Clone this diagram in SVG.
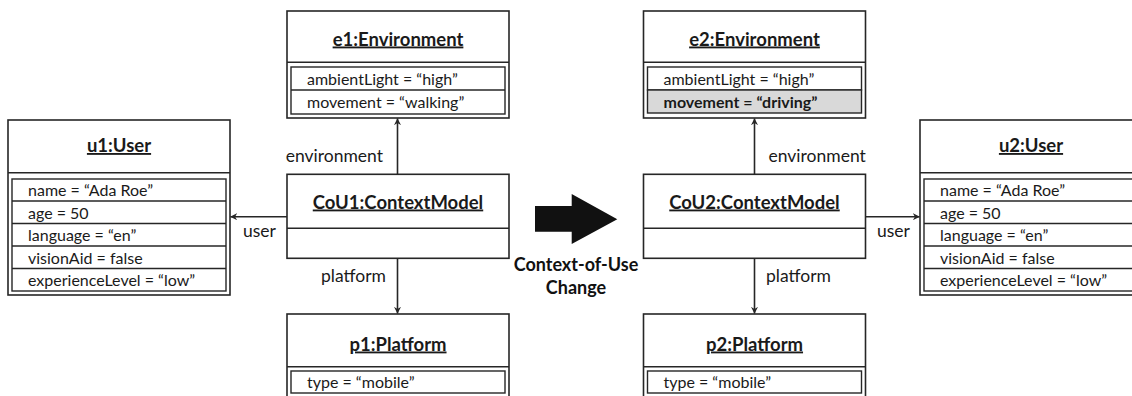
<svg xmlns="http://www.w3.org/2000/svg" width="1132" height="396" viewBox="0 0 1132 396">
  <style>
    .box { fill: #ffffff; stroke: #262626; stroke-width: 1.6; }
    .row { fill: none; stroke: #262626; stroke-width: 1.4; }
    .hl { fill: #d9d9d9; stroke: #262626; stroke-width: 1.4; }
    .title { font-family: "Lato", "Liberation Sans", sans-serif; font-size: 18.5px; font-weight: bold; fill: #1a1a1a; text-anchor: middle; text-decoration: underline; }
    .attr { font-family: "Lato", "Liberation Sans", sans-serif; font-size: 16px; fill: #1a1a1a; }
    .attrb { font-family: "Lato", "Liberation Sans", sans-serif; font-size: 16px; font-weight: bold; fill: #1a1a1a; }
    .lbl { font-family: "Lato", "Liberation Sans", sans-serif; font-size: 17.5px; fill: #1a1a1a; }
    .change { font-family: "Lato", "Liberation Sans", sans-serif; font-size: 18px; font-weight: bold; fill: #111111; text-anchor: middle; }
    .conn { stroke: #262626; stroke-width: 1.6; fill: none; marker-end: url(#head); }
  </style>
  <defs>
    <marker id="head" viewBox="0 0 10 10" refX="9.5" refY="5" markerWidth="7" markerHeight="7" markerUnits="userSpaceOnUse" orient="auto">
      <path d="M0,0 L10,5 L0,10 L3,5 Z" fill="#262626"/>
    </marker>
  </defs>

  <!-- left model -->
  <g id="u1">
    <rect class="box" x="8" y="120" width="222" height="175"/>
    <line class="row" x1="8" y1="172.7" x2="230" y2="172.7"/>
    <text class="title" x="119" y="152">u1:User</text>
    <rect class="row" x="12" y="179" width="214" height="112"/>
    <line class="row" x1="12" y1="201" x2="226" y2="201"/>
    <line class="row" x1="12" y1="223.5" x2="226" y2="223.5"/>
    <line class="row" x1="12" y1="246" x2="226" y2="246"/>
    <line class="row" x1="12" y1="268.5" x2="226" y2="268.5"/>
    <text class="attr" x="28" y="196">name = “Ada Roe”</text>
    <text class="attr" x="28" y="218.5">age = 50</text>
    <text class="attr" x="28" y="241">language = “en”</text>
    <text class="attr" x="28" y="263.5">visionAid = false</text>
    <text class="attr" x="28" y="286">experienceLevel = “low”</text>
  </g>

  <g id="e1">
    <rect class="box" x="287" y="11" width="222" height="107"/>
    <line class="row" x1="287" y1="62.3" x2="509" y2="62.3"/>
    <text class="title" x="398" y="45.5">e1:Environment</text>
    <rect class="row" x="291" y="67" width="214" height="47"/>
    <line class="row" x1="291" y1="90" x2="505" y2="90"/>
    <text class="attr" x="307" y="85">ambientLight = “high”</text>
    <text class="attr" x="307" y="107.5">movement = “walking”</text>
  </g>

  <g id="cou1">
    <rect class="box" x="287" y="174.3" width="222" height="84"/>
    <line class="row" x1="287" y1="228.3" x2="509" y2="228.3"/>
    <text class="title" x="398" y="208.5">CoU1:ContextModel</text>
  </g>

  <g id="p1">
    <rect class="box" x="287" y="314" width="222" height="90"/>
    <line class="row" x1="287" y1="366.7" x2="509" y2="366.7"/>
    <text class="title" x="398" y="350.5">p1:Platform</text>
    <rect class="row" x="291" y="371" width="214" height="22"/>
    <text class="attr" x="307" y="387.5">type = “mobile”</text>
  </g>

  <!-- transition arrow -->
  <g id="change">
    <polygon points="535,206 571.7,206 571.7,194 617.3,219.3 571.7,244 571.7,231.7 535,231.7" fill="#111111"/>
    <text class="change" x="576" y="270.5">Context-of-Use</text>
    <text class="change" x="576" y="293.5">Change</text>
  </g>

  <!-- right model -->
  <g id="e2">
    <rect class="box" x="643.5" y="11" width="222" height="107"/>
    <line class="row" x1="643.5" y1="62.3" x2="865.5" y2="62.3"/>
    <text class="title" x="754.5" y="45.5">e2:Environment</text>
    <rect class="row" x="647.5" y="67" width="214" height="23"/>
    <rect class="hl" x="647.5" y="90" width="214" height="23"/>
    <text class="attr" x="663.5" y="85">ambientLight = “high”</text>
    <text class="attrb" x="663.5" y="107.5">movement = “driving”</text>
  </g>

  <g id="cou2">
    <rect class="box" x="643.5" y="174.3" width="222" height="84"/>
    <line class="row" x1="643.5" y1="228.3" x2="865.5" y2="228.3"/>
    <text class="title" x="754.5" y="208.5">CoU2:ContextModel</text>
  </g>

  <g id="p2">
    <rect class="box" x="643.5" y="314" width="222" height="90"/>
    <line class="row" x1="643.5" y1="366.7" x2="865.5" y2="366.7"/>
    <text class="title" x="754.5" y="350.5">p2:Platform</text>
    <rect class="row" x="647.5" y="371" width="214" height="22"/>
    <text class="attr" x="663.5" y="387.5">type = “mobile”</text>
  </g>

  <g id="u2">
    <rect class="box" x="920" y="120" width="222" height="175"/>
    <line class="row" x1="920" y1="172.7" x2="1142" y2="172.7"/>
    <text class="title" x="1031" y="152">u2:User</text>
    <rect class="row" x="924" y="179" width="214" height="112"/>
    <line class="row" x1="924" y1="201" x2="1138" y2="201"/>
    <line class="row" x1="924" y1="223.5" x2="1138" y2="223.5"/>
    <line class="row" x1="924" y1="246" x2="1138" y2="246"/>
    <line class="row" x1="924" y1="268.5" x2="1138" y2="268.5"/>
    <text class="attr" x="940" y="196">name = “Ada Roe”</text>
    <text class="attr" x="940" y="218.5">age = 50</text>
    <text class="attr" x="940" y="241">language = “en”</text>
    <text class="attr" x="940" y="263.5">visionAid = false</text>
    <text class="attr" x="940" y="286">experienceLevel = “low”</text>
  </g>

  <!-- associations -->
  <g id="connectors">
    <line class="conn" x1="397.5" y1="174.3" x2="397.5" y2="118.5"/>
    <line class="conn" x1="397.5" y1="258.3" x2="397.5" y2="313.5"/>
    <line class="conn" x1="287" y1="216.7" x2="230.5" y2="216.7"/>
    <line class="conn" x1="754.5" y1="174.3" x2="754.5" y2="118.5"/>
    <line class="conn" x1="754.5" y1="258.3" x2="754.5" y2="313.5"/>
    <line class="conn" x1="865.5" y1="216.7" x2="919.5" y2="216.7"/>
    <text class="lbl" x="383" y="162" text-anchor="end">environment</text>
    <text class="lbl" x="321" y="282">platform</text>
    <text class="lbl" x="243" y="236.5">user</text>
    <text class="lbl" x="768.5" y="162">environment</text>
    <text class="lbl" x="766" y="282">platform</text>
    <text class="lbl" x="877" y="236.5">user</text>
  </g>
</svg>
